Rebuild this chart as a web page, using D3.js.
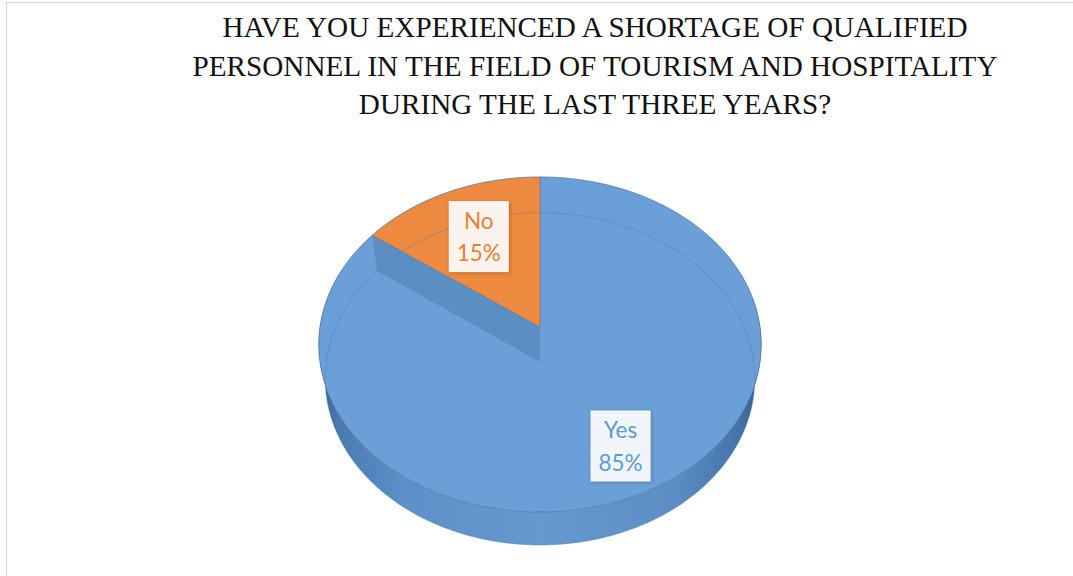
<!DOCTYPE html>
<html>
<head>
<meta charset="utf-8">
<script src="https://cdn.jsdelivr.net/npm/d3@7"></script>
<style>
  html, body { margin: 0; padding: 0; background: #fff; }
  svg { display: block; }
</style>
</head>
<body>
<svg id="chart" width="1073" height="576"></svg>
<script>
// ---- data ----
const titleLines = [
  "HAVE YOU EXPERIENCED A SHORTAGE OF QUALIFIED",
  "PERSONNEL IN THE FIELD OF TOURISM AND HOSPITALITY",
  "DURING THE LAST THREE YEARS?"
];
const categories = ["Yes", "No"];
const shares = [85, 15];

// ---- styling ----
const topColors = { Yes: "#6aa0d7", No: "#ee8a3f" };
const textColors = { Yes: "#5b9bd5", No: "#ec7d33" };
const labelRadius = { Yes: 0.75, No: 0.65 };   // fraction of the pie radius

// perspective camera looking down on a disc of radius 1
const view = { cx: 540, cy: 327, f: 1386, dist: 6.30, tilt: 48.85 * Math.PI / 180, depth: 0.249 };
const sT = Math.sin(view.tilt), cT = Math.cos(view.tilt);

// angle a clockwise from 12 o'clock, radius r, height y (0 = top face)
function project(a, r, y) {
  const x = r * Math.sin(a), z = -r * Math.cos(a);
  const v = y * cT - z * sT;
  const w = view.dist - (z * cT + y * sT);
  return [view.cx + view.f * x / w, view.cy - view.f * v / w];
}
function arcPoints(a0, a1, y, r = 1) {
  const n = Math.max(2, Math.ceil(Math.abs(a1 - a0) / 0.01));
  return d3.range(n + 1).map(i => project(a0 + (a1 - a0) * i / n, r, y));
}

const svg = d3.select("#chart");
const line = d3.line();
const closed = d3.line().curve(d3.curveLinearClosed);
const defs = svg.append("defs");

// chart frame
svg.append("rect")
  .attr("x", 6.5).attr("y", 2.5).attr("width", 1100).attr("height", 600)
  .attr("fill", "#fff").attr("stroke", "#d9d9d9").attr("stroke-width", 1.2);

// title
svg.append("text")
  .attr("x", 595).attr("y", 37)
  .attr("text-anchor", "middle")
  .attr("font-family", "'Liberation Serif', 'DejaVu Serif', serif")
  .attr("font-size", 29.2)
  .attr("fill", "#111")
  .selectAll("tspan")
  .data(titleLines)
  .join("tspan")
  .attr("x", 595)
  .attr("dy", (d, i) => i === 0 ? 0 : 38.5)
  .text(d => d);

// pie layout
const data = categories.map((c, i) => ({ name: c, value: shares[i] }));
const arcs = d3.pie().sort(null).value(d => d.value)(data);

// side band of the disc
const sideGrad = defs.append("linearGradient")
  .attr("id", "sideGrad").attr("gradientUnits", "userSpaceOnUse")
  .attr("x1", 318).attr("x2", 762).attr("y1", 0).attr("y2", 0);
[["0%", "#36608f"], ["5%", "#4a7cb3"], ["20%", "#5c90c8"], ["50%", "#6699cf"],
 ["80%", "#5c8ec5"], ["94%", "#4676aa"], ["100%", "#345d8b"]]
  .forEach(([o, c]) => sideGrad.append("stop").attr("offset", o).attr("stop-color", c));

const a0 = 70 * Math.PI / 180, a1 = 290 * Math.PI / 180;
const sidePts = arcPoints(a0, a1, 0).concat(arcPoints(a1, a0, -view.depth));
svg.append("path")
  .attr("d", closed(sidePts))
  .attr("fill", "url(#sideGrad)");

// top faces
svg.selectAll("path.slice")
  .data(arcs)
  .join("path")
  .attr("class", "slice")
  .attr("d", d => closed([project(0, 0, 0)].concat(arcPoints(d.startAngle, d.endAngle, 0))))
  .attr("fill", d => topColors[d.data.name])
  .attr("stroke", "rgba(95,110,135,0.5)")
  .attr("stroke-width", 0.9)
  .attr("stroke-linejoin", "round");

// cut faces turned towards the viewer, seen through the translucent top
arcs.forEach(d => {
  const a = d.startAngle;
  if (Math.sin(a) < -1e-6) {
    const wall = [project(a, 1, 0), project(a, 0, 0), project(a, 0, -view.depth), project(a, 1, -view.depth)];
    svg.append("path")
      .attr("d", closed(wall))
      .attr("fill", "#4f7fb3")
      .attr("fill-opacity", 0.55);
  }
});

// base outline, faintly visible through the top
svg.append("path")
  .attr("d", closed(arcPoints(0, 2 * Math.PI, -view.depth)))
  .attr("fill", "none")
  .attr("stroke", "#4a78aa")
  .attr("stroke-opacity", 0.4)
  .attr("stroke-width", 1);

// rim of the top face
svg.append("path")
  .attr("d", line(arcPoints(0, 2 * Math.PI, 0)))
  .attr("fill", "none")
  .attr("stroke", "#4f7fb2")
  .attr("stroke-opacity", 0.5)
  .attr("stroke-width", 1);

// data labels
const shadow = defs.append("filter").attr("id", "labelShadow")
  .attr("x", "-30%").attr("y", "-30%").attr("width", "160%").attr("height", "160%");
shadow.append("feDropShadow")
  .attr("dx", 1).attr("dy", 1).attr("stdDeviation", 2.2)
  .attr("flood-color", "#000").attr("flood-opacity", 0.28);

const total = d3.sum(shares);
const labels = svg.selectAll("g.label")
  .data(arcs)
  .join("g")
  .attr("class", "label")
  .attr("transform", d => {
    const mid = (d.startAngle + d.endAngle) / 2;
    const [x, y] = project(mid, labelRadius[d.data.name], 0);
    return `translate(${x},${y})`;
  });

labels.append("rect")
  .attr("x", -30).attr("y", -35.5).attr("width", 60).attr("height", 71)
  .attr("fill", "#fff").attr("fill-opacity", 0.9)
  .attr("filter", "url(#labelShadow)");

labels.append("text")
  .attr("text-anchor", "middle")
  .attr("font-family", "Lato, 'Open Sans', sans-serif")
  .attr("font-size", 22.5)
  .attr("fill", d => textColors[d.data.name])
  .selectAll("tspan")
  .data(d => [d.data.name, Math.round(d.data.value / total * 100) + "%"])
  .join("tspan")
  .attr("x", 0)
  .attr("y", (t, i) => i === 0 ? -8 : 24.5)
  .text(t => t);
</script>
</body>
</html>
